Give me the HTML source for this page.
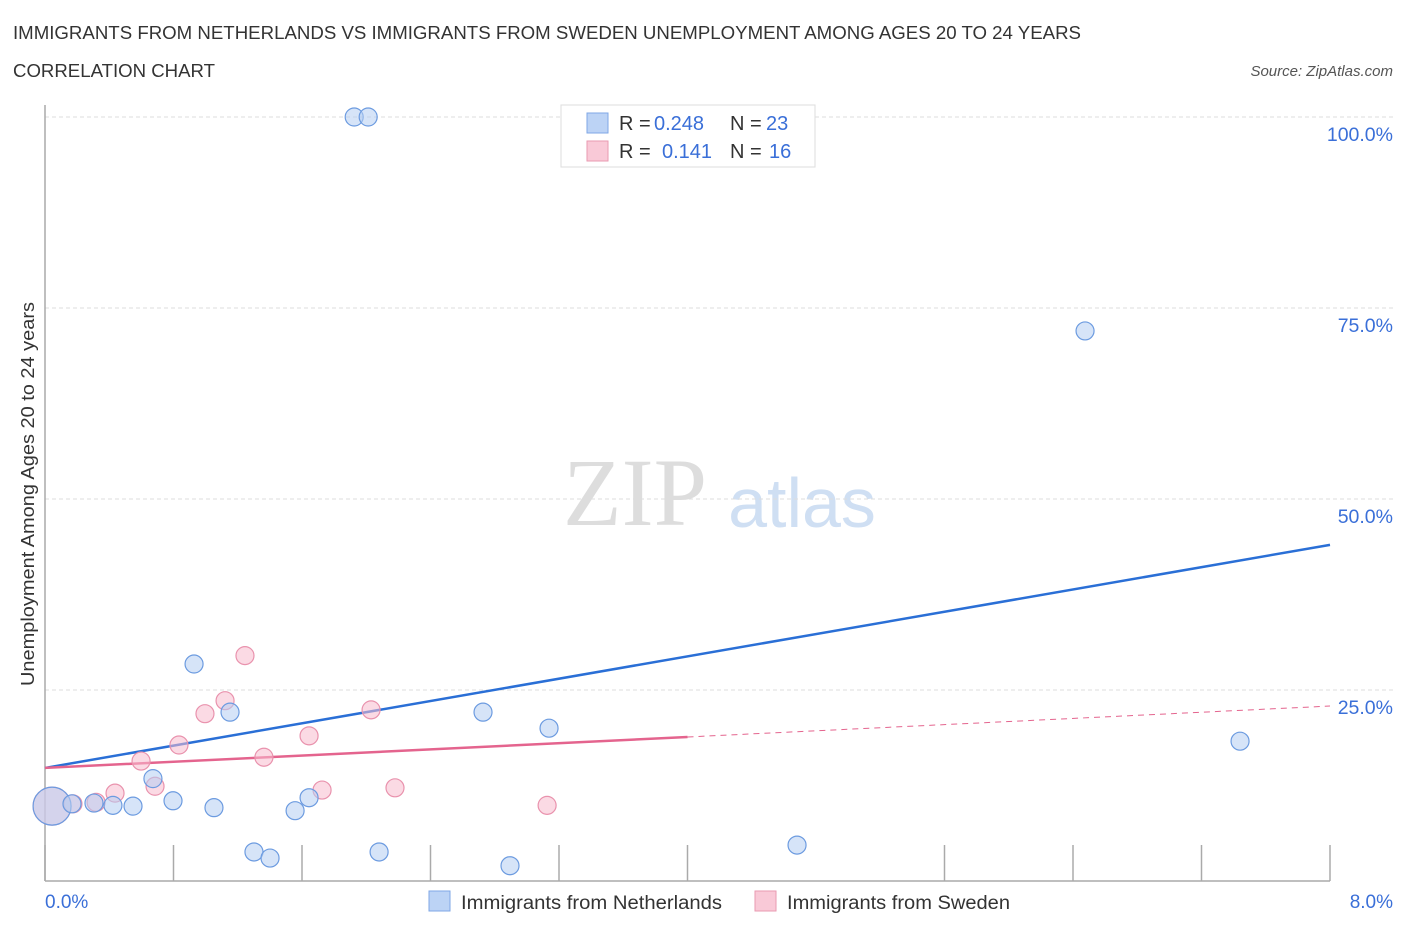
<!DOCTYPE html>
<html><head><meta charset="utf-8"><style>
body{margin:0;background:#fff;width:1406px;height:930px;overflow:hidden;font-family:"Liberation Sans",sans-serif}
</style></head><body>
<svg id="chart" width="1406" height="930" xmlns="http://www.w3.org/2000/svg" font-family="Liberation Sans, sans-serif">
<text x="13" y="39" font-size="18" fill="#333" textLength="1068" lengthAdjust="spacingAndGlyphs">IMMIGRANTS FROM NETHERLANDS VS IMMIGRANTS FROM SWEDEN UNEMPLOYMENT AMONG AGES 20 TO 24 YEARS</text>
<text x="13" y="77" font-size="18" fill="#333" textLength="202" lengthAdjust="spacingAndGlyphs">CORRELATION CHART</text>
<text x="1393" y="76" font-size="15" fill="#555" font-style="italic" text-anchor="end">Source: ZipAtlas.com</text>
<g>
<text x="635" y="525" font-size="96" fill="#ddd" font-family="Liberation Serif, serif" text-anchor="middle">ZIP</text>
<text x="802" y="527" font-size="70" fill="#cfdff3" text-anchor="middle">atlas</text>
</g>
<g id="grid"></g>
<g id="axes"></g>
<g id="trends"></g>
<g id="points"></g>
<text transform="translate(34,494) rotate(-90)" font-size="18" fill="#333" text-anchor="middle" textLength="384" lengthAdjust="spacingAndGlyphs">Unemployment Among Ages 20 to 24 years</text>
<text x="45" y="908" font-size="19" fill="#3a6fd8">0.0%</text>
<text x="1393" y="908" font-size="19" fill="#3a6fd8" text-anchor="end">8.0%</text>
<g>
<rect x="561" y="105" width="254" height="62" fill="#fff" stroke="#ddd"/>
<rect x="587" y="113" width="21" height="20" fill="#bcd3f5" stroke="#7fa7e6"/>
<text x="619" y="130" font-size="20" fill="#333">R =</text>
<text x="654" y="130" font-size="20" fill="#3a6fd8">0.248</text>
<text x="730" y="130" font-size="20" fill="#333">N =</text>
<text x="766" y="130" font-size="20" fill="#3a6fd8">23</text>
<rect x="587" y="141" width="21" height="20" fill="#f9c9d7" stroke="#e99ab2"/>
<text x="619" y="158" font-size="20" fill="#333">R =</text>
<text x="662" y="158" font-size="20" fill="#3a6fd8">0.141</text>
<text x="730" y="158" font-size="20" fill="#333">N =</text>
<text x="769" y="158" font-size="20" fill="#3a6fd8">16</text>
</g>
<g>
<rect x="429" y="891" width="21" height="20" fill="#bcd3f5" stroke="#7fa7e6"/>
<text x="461" y="909" font-size="19" fill="#333" textLength="261" lengthAdjust="spacingAndGlyphs">Immigrants from Netherlands</text>
<rect x="755" y="891" width="21" height="20" fill="#f9c9d7" stroke="#e99ab2"/>
<text x="787" y="909" font-size="19" fill="#333" textLength="223" lengthAdjust="spacingAndGlyphs">Immigrants from Sweden</text>
</g>
</svg>
<script>
const yTicks=[25,50,75,100];
const yTickLabels=["25.0%","50.0%","75.0%","100.0%"];
const xTicks=[0,0.8,1.6,2.4,3.2,4.0,5.6,6.4,7.2,8.0];
const nlX=[0.044,0.168,0.305,0.423,0.548,0.672,0.797,0.928,1.052,1.152,1.301,1.401,1.557,1.644,1.925,2.012,2.080,2.727,2.895,3.138,4.682,6.475,7.440];
const nlY=[9.8,10.1,10.2,9.9,9.8,13.4,10.5,28.4,9.6,22.1,3.8,3.0,9.2,10.9,100,100,3.8,22.1,2.0,20.0,4.7,72.0,18.3];
const seX=[0.044,0.174,0.318,0.436,0.598,0.685,0.834,0.996,1.121,1.245,1.363,1.644,1.725,2.030,2.179,3.126];
const seY=[9.8,10.1,10.3,11.5,15.7,12.4,17.8,21.9,23.6,29.5,16.2,19.0,11.9,22.4,12.2,9.9];
const nlTrend=[14.8,44.0];
const seTrend=[14.8,22.9];
const seSolidEnd=4.0;
const NS="http://www.w3.org/2000/svg";
const X=v=>45+v/8*1285, Y=v=>881-v*7.64;
function mk(p,t,a){const e=document.createElementNS(NS,t);for(const k in a)e.setAttribute(k,a[k]);document.getElementById(p).appendChild(e);return e;}
yTicks.forEach((t,i)=>{
 const g=mk('grid','line',{x1:45,x2:1393,y1:Y(t),y2:Y(t),stroke:'#ddd','stroke-dasharray':'4,3'});
 
 
 const l=mk('grid','text',{x:1393,y:Y(t)+24,'font-size':19.5,fill:'#3a6fd8','text-anchor':'end'});
 l.textContent=yTickLabels[i];
 
 
});
const g100=mk('grid','line',{x1:45,x2:1393,y1:117,y2:117,stroke:'#ddd','stroke-dasharray':'4,3'});


const ax=mk('axes','line',{x1:45,x2:1330,y1:881,y2:881,stroke:'#aaa','stroke-width':1.5});


const ay=mk('axes','line',{x1:45,x2:45,y1:105,y2:881,stroke:'#aaa','stroke-width':1.5});


xTicks.forEach(t=>{const e=mk('axes','line',{x1:X(t),x2:X(t),y1:845,y2:881,stroke:'#aaa','stroke-width':1.5});
 
 });
function pts(xs,ys,fill,stroke,name){xs.forEach((x,i)=>{const c=mk('points','circle',{cx:X(x),cy:Y(ys[i]),r:i==0?19:9,fill:fill,'fill-opacity':0.55,stroke:stroke,'stroke-width':1.2});
 
 });}
pts(seX,seY,'#f7bccd','#e992ad','point-sweden');
pts(nlX,nlY,'#b5cdf2','#6c9be0','point-netherlands');
const t1=mk('trends','line',{x1:X(0),y1:Y(nlTrend[0]),x2:X(8),y2:Y(nlTrend[1]),stroke:'#2a6fd6','stroke-width':2.5});


const se=v=>seTrend[0]+(seTrend[1]-seTrend[0])*v/8;
const t2=mk('trends','line',{x1:X(0),y1:Y(se(0)),x2:X(seSolidEnd),y2:Y(se(seSolidEnd)),stroke:'#e4648e','stroke-width':2.5});


const t3=mk('trends','line',{x1:X(seSolidEnd),y1:Y(se(seSolidEnd)),x2:X(8),y2:Y(se(8)),stroke:'#e4648e','stroke-width':1,'stroke-dasharray':'6,5'});


</script>
</body></html>
